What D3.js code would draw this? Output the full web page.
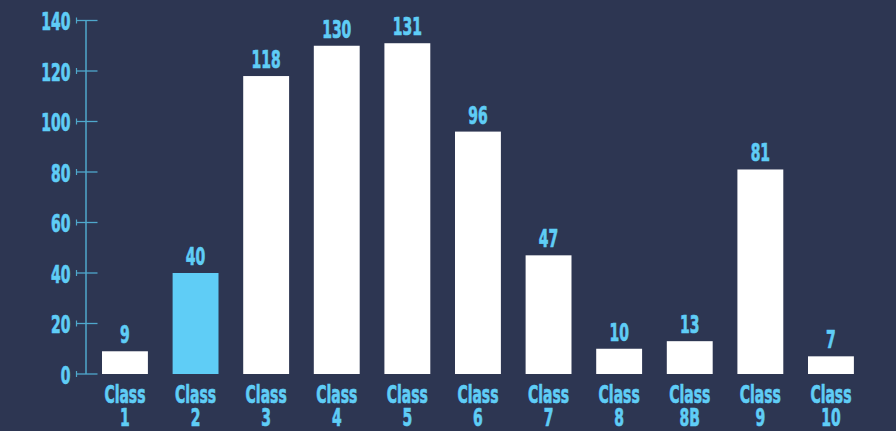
<!DOCTYPE html>
<html><head><meta charset="utf-8">
<script src="https://cdn.jsdelivr.net/npm/d3@7"></script>
<style>
html,body{margin:0;padding:0;background:#2d3652;}
svg{display:block;}
text{font-family:"DejaVu Sans Condensed","DejaVu Sans",sans-serif;font-weight:bold;font-stretch:condensed;stroke:#5fcdf6;stroke-width:0.6px;paint-order:stroke;}
</style></head>
<body>
<svg id="chart" width="896" height="431"></svg>
<script>
const categories = ["Class 1","Class 2","Class 3","Class 4","Class 5","Class 6","Class 7","Class 8","Class 8B","Class 9","Class 10"];
const values = [9,40,118,130,131,96,47,10,13,81,7];
const highlighted = ["Class 2"];
const yTicks = [0,20,40,60,80,100,120,140];

const svg = d3.select("#chart");
const W = 896, H = 431;
const bg = "#2d3652", blue = "#5fcdf6", axisCol = "#4fa8cc";
const FS = 21, SX = 0.74, SY = 1.2, SYC = 1.14;
svg.append("rect").attr("width", W).attr("height", H).attr("fill", bg);

const x = d3.scaleBand().domain(categories).range([77.3, 878.6]).paddingInner(0.35).paddingOuter(0.35);
const y = d3.scaleLinear().domain([0, 140]).range([374, 20.5]);

const axisX = 86;
const g = svg.append("g");
g.append("line").attr("x1", axisX).attr("x2", axisX).attr("y1", y(140)).attr("y2", y(0))
  .attr("stroke", axisCol).attr("stroke-width", 1.5);
const tick = g.selectAll("g.tick").data(yTicks).join("g").attr("class","tick")
  .attr("transform", d => `translate(0,${y(d)})`);
tick.append("line").attr("x1", 76).attr("x2", 97.5).attr("stroke", axisCol).attr("stroke-width", 1.3);
tick.append("line").attr("x1", 76.5).attr("x2", 76.5).attr("y1", -3).attr("y2", 3).attr("stroke", axisCol).attr("stroke-width", 1.2);
tick.append("text").attr("text-anchor","end").attr("fill", blue)
  .attr("transform",`translate(70.5,9.5) scale(${SX},${SY})`)
  .attr("font-size", FS).text(d => d);

svg.selectAll("rect.bar").data(values).join("rect").attr("class","bar")
  .attr("x", (d,i) => x(categories[i])).attr("width", x.bandwidth())
  .attr("y", d => y(d)).attr("height", d => y(0) - y(d))
  .attr("fill", (d,i) => highlighted.includes(categories[i]) ? blue : "#ffffff");

svg.selectAll("text.val").data(values).join("text").attr("class","val")
  .attr("text-anchor","middle").attr("fill", blue).attr("font-size", FS)
  .attr("transform", (d,i) => `translate(${x(categories[i]) + x.bandwidth()/2},${y(d) - 8}) scale(${SX},${SY})`)
  .text(d => d);

svg.selectAll("text.cat").data(categories).join("text").attr("class","cat")
  .attr("text-anchor","middle").attr("fill", blue).attr("font-size", FS)
  .attr("transform", c => `translate(${x(c) + x.bandwidth()/2},402.5) scale(${SX},${SYC})`)
  .each(function(c) {
    const parts = c.split(" ");
    d3.select(this).selectAll("tspan").data(parts).join("tspan")
      .attr("x", 0).attr("dy", (p, j) => j === 0 ? 0 : 24 / SYC).text(p => p);
  });
</script>
</body></html>
